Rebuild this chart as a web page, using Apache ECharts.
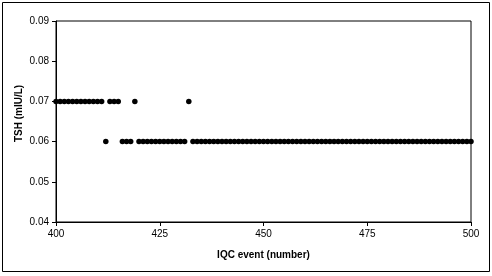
<!DOCTYPE html>
<html>
<head>
<meta charset="utf-8">
<script src="https://cdn.jsdelivr.net/npm/echarts@6/dist/echarts.min.js"></script>
<style>
html,body{margin:0;padding:0;background:#fff;}
#c{width:492px;height:276px;}
</style>
</head>
<body>
<div id="c"></div>
<script>
const events = [400,401,402,403,404,405,406,407,408,409,410,411,412,413,414,415,416,417,418,419,
420,421,422,423,424,425,426,427,428,429,430,431,432,433,434,435,436,437,438,439,
440,441,442,443,444,445,446,447,448,449,450,451,452,453,454,455,456,457,458,459,
460,461,462,463,464,465,466,467,468,469,470,471,472,473,474,475,476,477,478,479,
480,481,482,483,484,485,486,487,488,489,490,491,492,493,494,495,496,497,498,499,500];
const tsh = [0.07,0.07,0.07,0.07,0.07,0.07,0.07,0.07,0.07,0.07,0.07,0.07,0.06,0.07,0.07,0.07,0.06,0.06,0.06,0.07,
0.06,0.06,0.06,0.06,0.06,0.06,0.06,0.06,0.06,0.06,0.06,0.06,0.07,0.06,0.06,0.06,0.06,0.06,0.06,0.06,
0.06,0.06,0.06,0.06,0.06,0.06,0.06,0.06,0.06,0.06,0.06,0.06,0.06,0.06,0.06,0.06,0.06,0.06,0.06,0.06,
0.06,0.06,0.06,0.06,0.06,0.06,0.06,0.06,0.06,0.06,0.06,0.06,0.06,0.06,0.06,0.06,0.06,0.06,0.06,0.06,
0.06,0.06,0.06,0.06,0.06,0.06,0.06,0.06,0.06,0.06,0.06,0.06,0.06,0.06,0.06,0.06,0.06,0.06,0.06,0.06,0.06];
const xTicks = [400,425,450,475,500];
const yTicks = [0.04,0.05,0.06,0.07,0.08,0.09];

const chart = echarts.init(document.getElementById('c'), null, {renderer:'canvas'});
const font = 'Liberation Sans, Arial, sans-serif';
chart.setOption({
  animation:false,
  backgroundColor:'#fff',
  grid:{left:56,right:21,top:21,bottom:54,show:true,borderColor:'#000',borderWidth:1,backgroundColor:'transparent'},
  graphic:[{type:'rect',shape:{x:2.5,y:2.5,width:487,height:269},style:{fill:'none',stroke:'#000',lineWidth:1},silent:true}],
  xAxis:{
    type:'value',min:xTicks[0],max:xTicks[xTicks.length-1],interval:25,
    name:'IQC event (number)',nameLocation:'middle',nameGap:28,
    nameTextStyle:{fontFamily:font,fontSize:10,fontWeight:'bold',color:'#000'},
    axisLine:{lineStyle:{color:'#000',width:1}},
    axisTick:{inside:false,length:4,lineStyle:{color:'#000'}},
    axisLabel:{fontFamily:font,fontSize:10,color:'#000',margin:7},
    splitLine:{show:false}
  },
  yAxis:{
    type:'value',min:yTicks[0],max:yTicks[yTicks.length-1],interval:0.01,
    name:'TSH (mIU/L)',nameLocation:'middle',nameGap:32,nameRotate:90,nameMoveOverlap:false,
    nameTextStyle:{fontFamily:font,fontSize:10,fontWeight:'bold',color:'#000',padding:[0,0,0,16]},
    axisLine:{lineStyle:{color:'#000',width:1}},
    axisTick:{inside:false,length:4,lineStyle:{color:'#000'}},
    axisLabel:{fontFamily:font,fontSize:10,color:'#000',margin:7,formatter:v=>v.toFixed(2)},
    splitLine:{show:false}
  },
  series:[{
    type:'scatter',
    data:events.map((e,i)=>[e,tsh[i]]),
    symbol:'circle',symbolSize:5.5,
    itemStyle:{color:'#000',opacity:1},
    clip:false
  }]
});
</script>
</body>
</html>
